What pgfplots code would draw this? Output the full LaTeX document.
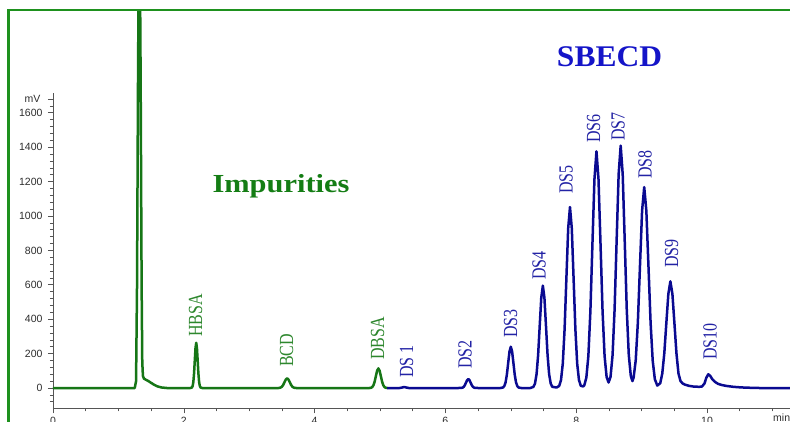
\documentclass[border=0pt]{standalone}
\usepackage{graphicx}
\usepackage{pgfplots}
\pgfplotsset{compat=1.18}
\usepackage{fontspec}
\setmainfont{Liberation Serif}
\newfontfamily\arialfont{Liberation Sans}
\definecolor{greenline}{RGB}{22,118,22}
\definecolor{greenlabel}{RGB}{45,135,45}
\definecolor{impgreen}{RGB}{20,125,20}
\definecolor{framegreen}{RGB}{30,145,30}
\definecolor{blueline}{RGB}{10,10,145}
\definecolor{bluelabel}{RGB}{35,35,165}
\definecolor{sbecdblue}{RGB}{20,20,200}
\definecolor{axisgray}{RGB}{85,85,85}
\definecolor{ticklabel}{RGB}{45,45,45}
\begin{document}
\begin{tikzpicture}[x=1pt,y=1pt]
\useasboundingbox (0,0) rectangle (790,421);
\fill[white] (0,0) rectangle (790,421);
\begin{scope}
\clip (0,0) rectangle (790,411);
\begin{axis}[
  at={(53pt,12.7pt)}, anchor=south west, scale only axis,
  width=784.8pt, height=315.3pt,
  xmin=0, xmax=12, ymin=-118, ymax=1715,
  axis x line=bottom, axis y line=left,
  axis line style={-, draw=axisgray, line width=0.8pt},
  clip=false,
  tick align=outside, major tick length=5pt, minor tick length=3pt,
  xtick={0,2,...,12}, minor xtick={0,0.5,...,12},
  ytick={0,200,...,1600}, minor ytick={-80,-40,...,1680},
  extra y ticks={1680}, extra y tick labels={mV},
  tick style={draw=axisgray, line width=0.6pt},
  ticklabel style={font=\arialfont\fontsize{10.5}{12}\selectfont, text=ticklabel},
  yticklabel style={xshift=-2pt},
  extra y tick style={yticklabel style={xshift=-2pt}},
  /pgf/number format/assume math mode=true,
  /pgf/number format/set thousands separator={},
  scaled y ticks=false,
]
\addplot[greenline, line width=2.5pt, line join=round] coordinates {
(0,0) (1.25,0) (1.27,40) (1.285,600) (1.30,1800) (1.315,2700) (1.325,2700) (1.34,1800) (1.355,600) (1.365,150) (1.375,70) (1.39,55) (1.42,48) (1.46,40) (1.50,30) (1.55,18) (1.60,9) (1.66,3) (1.74,0)
(2.10,0) (2.124,2.9) (2.135,11.5) (2.146,35.6) (2.157,85.4) (2.168,159.5) (2.179,232.1) (2.19,263) (2.201,232.1) (2.212,159.5) (2.223,85.4) (2.234,35.6) (2.245,11.5) (2.256,2.9) (2.28,0)
(3.45,0) (3.46,0.6) (3.48,2.5) (3.50,7.6) (3.52,18.2) (3.54,34.0) (3.56,49.4) (3.58,56) (3.60,49.4) (3.62,34.0) (3.64,18.2) (3.66,7.6) (3.68,2.5) (3.70,0.6) (3.72,0)
(4.84,0) (4.861,1.3) (4.88,5.0) (4.899,15.4) (4.918,37.0) (4.937,69.1) (4.956,100.6) (4.975,114) (4.994,100.6) (5.013,69.1) (5.032,37.0) (5.051,15.4) (5.07,5.0) (5.089,1.3) (5.11,0)
};
\addplot[blueline, line width=2.5pt, line join=round] coordinates {
(5.11,0) (5.30,0) (5.34,3) (5.37,6) (5.40,3) (5.44,0)
(6.20,0) (6.245,0.6) (6.263,2.3) (6.28,7.0) (6.298,16.9) (6.315,31.5) (6.333,45.9) (6.35,52) (6.368,45.9) (6.385,31.5) (6.403,16.9) (6.42,7.0) (6.438,2.3) (6.455,0.6) (6.50,0)
(6.84,0) (6.88,2.7) (6.90,10.5) (6.92,32.5) (6.94,77.9) (6.96,145.6) (6.98,211.8) (7.00,240) (7.02,211.8) (7.04,145.6) (7.06,77.9) (7.08,32.5) (7.10,10.5) (7.12,2.7) (7.16,0)
(7.30,0) (7.346,6.6) (7.37,26) (7.394,80.5) (7.418,193) (7.442,361) (7.466,525) (7.49,595) (7.514,525) (7.538,361) (7.562,193) (7.586,80.5) (7.61,26) (7.634,7) (7.70,3)
(7.74,12) (7.7675,46) (7.795,142) (7.8225,342) (7.85,638) (7.8775,928) (7.905,1052) (7.9325,928) (7.96,638) (7.9875,342) (8.015,142) (8.0425,46) (8.07,13) (8.108,9)
(8.124,16) (8.155,60) (8.186,186) (8.217,447) (8.248,835) (8.279,1214) (8.31,1376) (8.341,1214) (8.372,835) (8.403,447) (8.434,186) (8.465,64) (8.495,32)
(8.525,65) (8.556,191) (8.587,457) (8.618,855) (8.649,1243) (8.68,1409) (8.711,1243) (8.742,855) (8.773,457) (8.804,192) (8.835,70) (8.86,40)
(8.8775,60) (8.91,160) (8.9425,379) (8.975,708) (9.0075,1031) (9.04,1168) (9.0725,1031) (9.105,708) (9.1375,379) (9.17,158) (9.2025,51) (9.24,14)
(9.285,28) (9.316,84) (9.347,201) (9.378,376) (9.409,547) (9.44,620) (9.471,547) (9.502,376) (9.533,201) (9.564,84) (9.595,40) (9.626,27) (9.66,20) (9.72,13) (9.80,8) (9.88,7)
(9.92,8) (9.96,25) (9.99,60) (10.02,80) (10.05,70) (10.08,52) (10.12,36) (10.17,24) (10.23,17) (10.30,12) (10.40,7) (10.5,4) (10.6,2) (10.8,0) (12,0)
};
\end{axis}
\end{scope}
% min label
\node[anchor=north west, inner sep=0, font=\arialfont\fontsize{10.5}{12}\selectfont, text=ticklabel] at (773,7) {min};
% peak labels
\tikzset{plab/.style={rotate=90, anchor=west, inner sep=0, font=\fontsize{20}{24}\selectfont}}
\node[plab, text=greenlabel] at (195.5,84) {\scalebox{0.8}[1]{HBSA}};
\node[plab, text=greenlabel] at (286.5,54) {\scalebox{0.8}[1]{BCD}};
\node[plab, text=greenlabel] at (377.5,61) {\scalebox{0.8}[1]{DBSA}};
\node[plab, text=bluelabel] at (406.5,43) {\scalebox{0.8}[1]{DS 1}};
\node[plab, text=bluelabel] at (465,52) {\scalebox{0.8}[1]{DS2}};
\node[plab, text=bluelabel] at (510.5,83) {\scalebox{0.8}[1]{DS3}};
\node[plab, text=bluelabel] at (539,141) {\scalebox{0.8}[1]{DS4}};
\node[plab, text=bluelabel] at (566,227) {\scalebox{0.8}[1]{DS5}};
\node[plab, text=bluelabel] at (593.5,278) {\scalebox{0.8}[1]{DS6}};
\node[plab, text=bluelabel] at (618,280) {\scalebox{0.8}[1]{DS7}};
\node[plab, text=bluelabel] at (645,242) {\scalebox{0.8}[1]{DS8}};
\node[plab, text=bluelabel] at (671.5,153) {\scalebox{0.8}[1]{DS9}};
\node[plab, text=bluelabel] at (710,61) {\scalebox{0.8}[1]{DS10}};
% group titles
\node[anchor=base, inner sep=0, text=impgreen, font=\bfseries\fontsize{26}{30}\selectfont] at (281,228) {\scalebox{1.17}[1]{Impurities}};
\node[anchor=base, inner sep=0, text=sbecdblue, font=\bfseries\fontsize{30}{34}\selectfont] at (609.5,354) {\scalebox{1.05}[1]{SBECD}};
% frame
\draw[framegreen, line width=2.6pt, line join=miter] (8.3,-2) -- (8.3,411) -- (792,411);
\end{tikzpicture}
\end{document}
